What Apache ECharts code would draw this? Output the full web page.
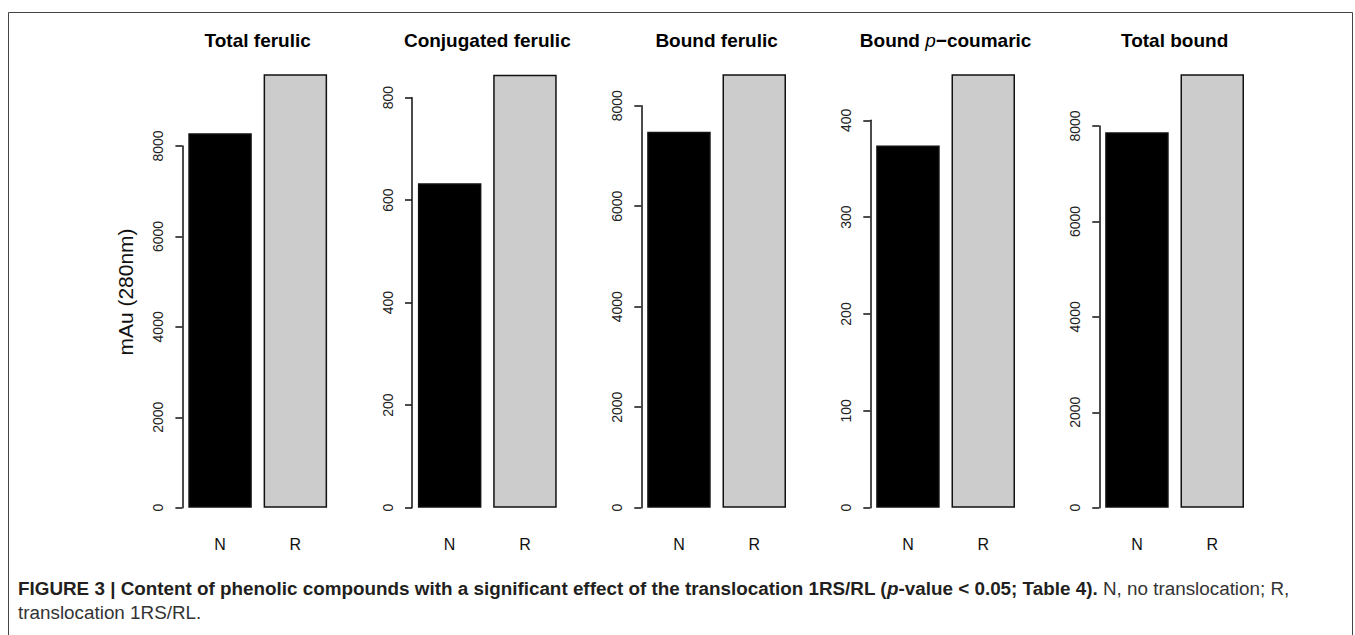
<!DOCTYPE html>
<html>
<head>
<meta charset="utf-8">
<script src="https://cdn.jsdelivr.net/npm/echarts@6/dist/echarts.min.js"></script>
<style>
html,body{margin:0;padding:0;background:#fff;}
#chart{width:1355px;height:635px;}
</style>
</head>
<body>
<div id="chart"></div>
<script>
// ---- data ----
const panelTitles = ['Total ferulic', 'Conjugated ferulic', 'Bound ferulic', 'Bound p\u2212coumaric', 'Total bound'];
const categories = ['N', 'R'];
const nValues = [8281, 633, 7483, 374, 7868];
const rValues = [9586, 845, 8625, 447.5, 9084];
const axisMax = [8000, 800, 8000, 400, 8000];
const axisStep = [2000, 200, 2000, 100, 2000];
const yAxisName = 'mAu (280nm)';
const captionBold = 'FIGURE 3 | Content of phenolic compounds with a significant effect of the translocation 1RS/RL (';
const captionBold2 = '-value < 0.05; Table 4).';
const captionRegular1 = ' N, no translocation; R,';
const captionRegular2 = 'translocation 1RS/RL.';

// ---- layout ----
const gridLefts = [182.4, 412, 641.3, 870.3, 1099.3];
const gridWidth = 150.6;
const gridTops = [146, 97.7, 105.7, 120.3, 126];
const zeroY = 507.7;
const H = 635;
const FONT = '"Liberation Sans", Arial, Helvetica, sans-serif';
const CAPFONT = '"Liberation Sans", Arial, sans-serif';
const CAPSIZE = 18.85;

const chart = echarts.init(document.getElementById('chart'), null, {renderer: 'svg'});

const grids = [], xAxes = [], yAxes = [], series = [], graphics = [];
for (let i = 0; i < panelTitles.length; i++) {
  grids.push({left: gridLefts[i], width: gridWidth, top: gridTops[i], bottom: H - zeroY, containLabel: false});
  xAxes.push({
    type: 'category', gridIndex: i, data: categories,
    axisLine: {show: false}, axisTick: {show: false},
    axisLabel: {fontSize: 16, color: '#111', margin: 29, fontFamily: FONT}
  });
  yAxes.push({
    type: 'value', gridIndex: i, min: 0, max: axisMax[i], interval: axisStep[i],
    axisLine: {show: true, lineStyle: {color: '#111', width: 1.5}},
    axisTick: {show: true, inside: false, length: 7, lineStyle: {color: '#111', width: 1.5}},
    splitLine: {show: false},
    axisLabel: {rotate: 90, fontSize: 14, color: '#222', margin: 17, fontFamily: FONT,
      formatter: function (v) { return String(v); }}
  });
  series.push({
    type: 'bar', xAxisIndex: i, yAxisIndex: i, barWidth: 63.5, clip: false,
    animation: false,
    data: [
      {value: nValues[i], itemStyle: {color: '#000', borderColor: '#111', borderWidth: 1.5}},
      {value: rValues[i], itemStyle: {color: '#cccccc', borderColor: '#111', borderWidth: 1.5}}
    ]
  });
  // panel title
  const t = panelTitles[i];
  let rich;
  if (t.indexOf(' p\u2212') >= 0) {
    const parts = t.split(' p\u2212');
    rich = '{b|' + parts[0] + ' }{bi|p}{b|\u2212' + parts[1] + '}';
  } else {
    rich = '{b|' + t + '}';
  }
  graphics.push({
    type: 'text', x: gridLefts[i] + gridWidth / 2, y: 40,
    style: {
      text: rich, align: 'center', verticalAlign: 'middle',
      rich: {
        b: {fontSize: 19, fontWeight: 'bold', fill: '#000', fontFamily: FONT},
        bi: {fontSize: 19, fontWeight: 'normal', fontStyle: 'italic', fill: '#000', fontFamily: FONT}
      }
    }
  });
}

// y axis name
graphics.push({
  type: 'text', x: 125, y: 292, rotation: Math.PI / 2,
  style: {text: yAxisName, align: 'center', verticalAlign: 'middle', fontSize: 21, fill: '#111', fontFamily: FONT}
});
// border frame
graphics.push({
  type: 'rect', shape: {x: 8.5, y: 12.5, width: 1344, height: 640},
  style: {fill: 'none', stroke: '#444', lineWidth: 1}
});
// caption
graphics.push({
  type: 'text', x: 18, y: 588,
  style: {
    text: '{b|' + captionBold + '}{bi|p}{b|' + captionBold2 + '}{n|' + captionRegular1 + '}',
    verticalAlign: 'middle', align: 'left',
    rich: {
      b: {fontSize: CAPSIZE, fontWeight: 'bold', fill: '#231f20', fontFamily: CAPFONT},
      bi: {fontSize: CAPSIZE, fontWeight: 'bold', fontStyle: 'italic', fill: '#231f20', fontFamily: CAPFONT},
      n: {fontSize: CAPSIZE, fill: '#333', fontFamily: CAPFONT}
    }
  }
});
graphics.push({
  type: 'text', x: 18, y: 612,
  style: {text: captionRegular2, verticalAlign: 'middle', align: 'left', fontSize: CAPSIZE, fill: '#333', fontFamily: CAPFONT}
});

chart.setOption({
  animation: false,
  backgroundColor: '#fff',
  grid: grids,
  xAxis: xAxes,
  yAxis: yAxes,
  series: series,
  graphic: graphics
});
</script>
</body>
</html>
